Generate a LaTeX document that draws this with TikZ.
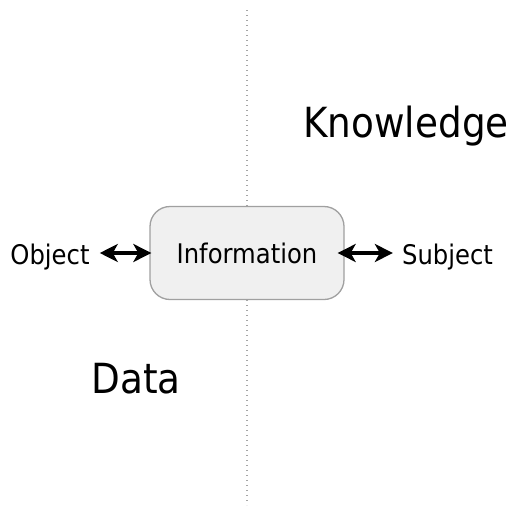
\documentclass[tikz,border=0pt]{standalone}
\usepackage{fontspec}
\setmainfont{DejaVu Sans}[FakeStretch=0.9]
\usepackage{tikz}
\usetikzlibrary{positioning,arrows.meta,calc}
\usepackage[svgnames]{xcolor}

\definecolor{boxfill}{HTML}{F0F0F0}
\definecolor{boxline}{HTML}{A0A0A0}

\begin{document}
\begin{tikzpicture}[x=1pt, y=-1pt,
        small/.style={font=\fontsize{27}{32}\selectfont, inner sep=0pt},
        big/.style={font=\fontsize{41.5}{48}\selectfont, inner sep=0pt},
        infobox/.style={draw=boxline, line width=1.3pt, fill=boxfill, rounded corners=20pt,
            minimum width=194pt, minimum height=93pt, inner sep=0pt, small},
        link/.style={line width=3.5pt, {Stealth[length=18pt,width=18pt,inset=5pt]}-{Stealth[length=18pt,width=18pt,inset=5pt]}},
        divider/.style={draw=gray!70, line width=1.3pt, dash pattern=on 1.3pt off 3.7pt}]
            \useasboundingbox (0,0) rectangle (516,506);
            % the dotted split between the two sides
            \coordinate (top) at (247,10);
            \coordinate (bottom) at (247,505);
            \draw[divider] (top) -- (bottom);
            \node[infobox] (info) at (247,253) {Information};
            \node[small, anchor=base] (obj) at (50,264) {Object};
            \node[small, anchor=base] (subj) at (447.5,264) {Subject};
            \node[big, anchor=base] (know) at (406,137) {Knowledge};
            \node[big, anchor=base] (data) at (136,393) {Data};
            \draw[link, shorten <=10pt, shorten >=-2pt] (info.west -| obj.east) -- (info.west);
            \draw[link, shorten <=-7pt, shorten >=9pt] (info.east) -- (info.east -| subj.west);
        \end{tikzpicture}
\end{document}
